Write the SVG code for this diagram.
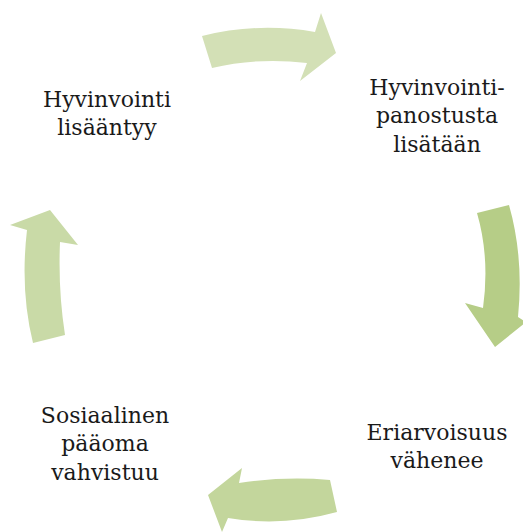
<svg xmlns="http://www.w3.org/2000/svg" width="523" height="532" viewBox="0 0 523 532">
<style>
.lbl{font-family:"DejaVu Serif","Liberation Serif",serif;font-size:22px;fill:#1a1a1a;text-anchor:middle}
</style>
<rect width="523" height="532" fill="#ffffff"/>
<g id="connectors">
<path id="arrow-top" d="M202,36 Q258,22 315,32 L321,13 L336,53 L300,81 L307,63 Q258,57 212,68 Z" fill="#d3e0b6"/>
<path id="arrow-right" d="M477,213 L509,205 Q524,258 518,317 L526,322 L495,347 L465,303 L483,308 Q490,258 477,213 Z" fill="#b6cd87"/>
<path id="arrow-bottom" d="M330,480 Q285,476 239,483 L242,468 L208,495 L222,532 L228,518 Q283,527 337,512 Z" fill="#c3d69c"/>
<path id="arrow-left" d="M33,343 L65,335 Q58,290 60,242 L78,245 L50,210 L10,225 L27,230 Q20,290 33,343 Z" fill="#c9daa7"/>
</g>
<g id="node-hyvinvointi-lisaantyy">
<text class="lbl" x="107" y="107">Hyvinvointi</text>
<text class="lbl" x="107" y="135">lisääntyy</text>
</g>
<g id="node-hyvinvointipanostusta">
<text class="lbl" x="437" y="95">Hyvinvointi-</text>
<text class="lbl" x="437" y="123">panostusta</text>
<text class="lbl" x="437" y="152">lisätään</text>
</g>
<g id="node-eriarvoisuus">
<text class="lbl" x="437" y="440">Eriarvoisuus</text>
<text class="lbl" x="437" y="468">vähenee</text>
</g>
<g id="node-sosiaalinen">
<text class="lbl" x="105" y="423">Sosiaalinen</text>
<text class="lbl" x="105" y="451">pääoma</text>
<text class="lbl" x="105" y="480">vahvistuu</text>
</g>
</svg>
